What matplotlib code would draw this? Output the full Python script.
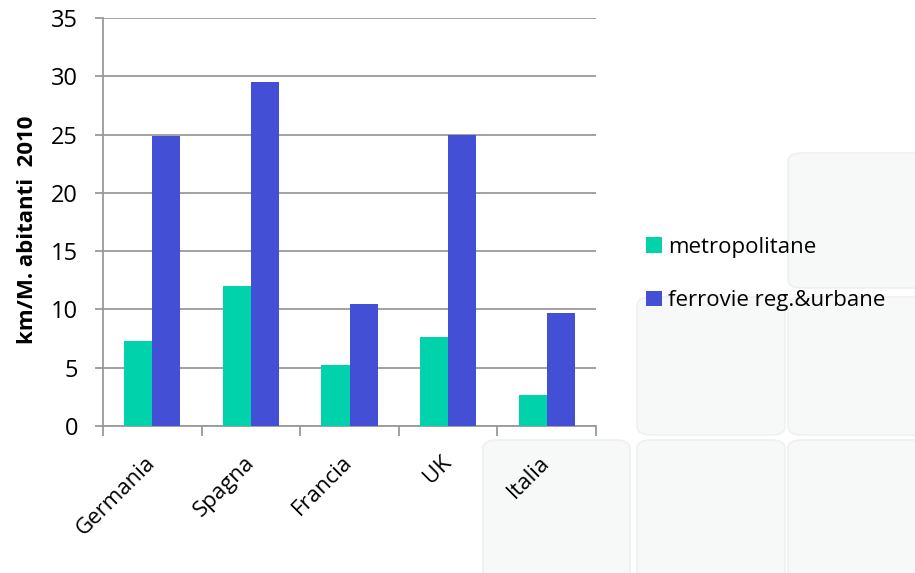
import matplotlib as mpl
import matplotlib.pyplot as plt
import numpy as np
from matplotlib.patches import FancyBboxPatch

mpl.use("Agg")

# %%
# data
paesi = ["Germania", "Spagna", "Francia", "UK", "Italia"]
metropolitane = [7.3, 12.0, 5.2, 7.6, 2.7]
ferrovie = [24.9, 29.5, 10.5, 25.0, 9.7]
serie_labels = ["metropolitane", "ferrovie reg.&urbane"]
y_ticks = [0, 5, 10, 15, 20, 25, 30, 35]

col_metro = "#00D2AB"
col_ferro = "#434FD4"
grid_col = "#9a9a9a"

plt.rcParams["font.family"] = ["Open Sans", "DejaVu Sans"]

fig = plt.figure(figsize=(9.15, 5.73), dpi=100)
fig.patch.set_facecolor("white")

# faint background tiles (decoration of the original slide)
tiles = [
    (788, 153, 140, 135),
    (637, 297, 148, 138),
    (788, 297, 140, 138),
    (483, 440, 147, 140),
    (637, 440, 148, 140),
    (788, 440, 140, 140),
]
for tx, ty, tw, th in tiles:
    fig.patches.append(
        FancyBboxPatch(
            (tx / 915, 1 - (ty + th) / 573),
            tw / 915,
            th / 573,
            boxstyle="round,pad=0,rounding_size=0.015",
            transform=fig.transFigure,
            facecolor="#f7f8f8",
            edgecolor="#f0f0f0",
            linewidth=1.2,
            zorder=-5,
        )
    )

ax = fig.add_axes([103 / 915, 1 - 426 / 573, 493 / 915, 408 / 573])
ax.set_facecolor("none")

x = np.arange(len(paesi))
w = 0.286
b1 = ax.bar(x - w / 2, metropolitane, w, color=col_metro, label=serie_labels[0], zorder=3)
b2 = ax.bar(x + w / 2, ferrovie, w, color=col_ferro, label=serie_labels[1], zorder=3)

ax.set_xlim(-0.5, len(paesi) - 0.5)
ax.set_ylim(0, 35)
ax.set_yticks(y_ticks)
ax.set_yticklabels([str(v) for v in y_ticks], fontsize=17)
ax.yaxis.grid(True, color=grid_col, linewidth=1.3, zorder=1)
ax.set_axisbelow(True)

# category ticks sit between the groups, labels at group centres
ax.set_xticks(np.arange(-0.5, len(paesi), 1.0))
ax.set_xticklabels([])
ax.set_xticks(x, minor=True)
ax.set_xticklabels(paesi, minor=True, rotation=45, ha="right", va="center",
                   rotation_mode="anchor", fontsize=16)
ax.tick_params(axis="x", which="minor", length=0, pad=24)
ax.tick_params(axis="x", which="major", length=7, width=1.3, color=grid_col, direction="out")
ax.tick_params(axis="y", length=6, width=1.3, color=grid_col, direction="out", pad=12)

for s in ["top", "right"]:
    ax.spines[s].set_visible(False)
for s in ["left", "bottom"]:
    ax.spines[s].set_color(grid_col)
    ax.spines[s].set_linewidth(1.3)

ax.set_ylabel("km/M. abitanti  2010", fontsize=16, fontweight="bold")
ax.yaxis.set_label_coords(-0.132, 0.48)

leg = fig.legend(
    handles=[b1, b2],
    labels=serie_labels,
    loc="center left",
    bbox_to_anchor=(626 / 915, 1 - 274 / 573),
    frameon=False,
    fontsize=16,
    handlelength=0.7,
    handleheight=0.7,
    handletextpad=0.3,
    labelspacing=1.45,
)

fig.savefig("out.png", dpi=100)
